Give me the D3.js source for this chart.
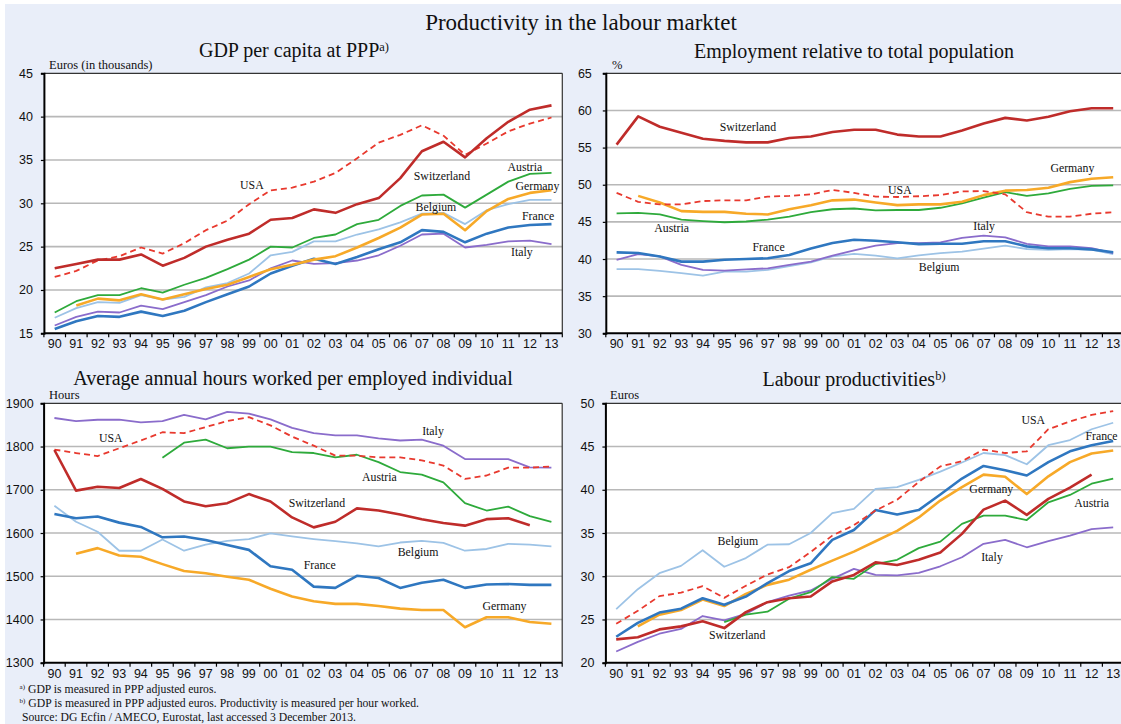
<!DOCTYPE html>
<html>
<head>
<meta charset="utf-8">
<script src="https://cdn.jsdelivr.net/npm/d3@7"></script>
<style>
  body { margin: 0; background: #ffffff; }
  svg { display: block; }
</style>
</head>
<body>
<svg id="chart" width="1121" height="724"></svg>
<script>
// ---- data -------------------------------------------------------------
const years = ["90","91","92","93","94","95","96","97","98","99",
               "00","01","02","03","04","05","06","07","08","09","10","11","12","13"];

// GDP per capita at PPP, euros (thousands)
const gdpSwitzerland = [22.5,23.0,23.5,23.5,24.1,22.8,23.7,25.0,25.8,26.5,28.1,28.3,29.3,28.9,29.9,30.6,32.9,36.0,37.1,35.3,37.5,39.4,40.8,41.3];
const gdpUSA         = [21.5,22.2,23.4,23.9,24.9,24.2,25.4,26.9,28.0,29.9,31.5,31.8,32.5,33.5,35.2,37.0,37.9,39.0,37.8,35.6,36.9,38.3,39.2,39.9];
const gdpAustria     = [17.4,18.7,19.4,19.4,20.2,19.7,20.6,21.4,22.4,23.5,25.0,24.9,26.0,26.4,27.6,28.1,29.7,30.9,31.0,29.5,31.0,32.5,33.4,33.5];
const gdpGermany     = [null,18.2,19.0,18.8,19.5,18.9,19.5,20.1,20.6,21.5,22.4,22.9,23.5,23.9,24.9,26.0,27.2,28.7,28.8,26.9,29.1,30.5,31.2,31.5];
const gdpBelgium     = [16.8,17.9,18.6,18.5,19.4,18.9,19.2,20.3,20.8,21.9,24.0,24.4,25.6,25.6,26.4,27.0,27.8,28.8,28.9,27.6,29.2,29.9,30.4,30.4];
const gdpFrance      = [15.5,16.4,17.0,16.9,17.5,17.0,17.6,18.6,19.5,20.4,21.9,22.8,23.6,23.0,23.8,24.7,25.5,26.9,26.7,25.5,26.5,27.2,27.5,27.6];
const gdpItaly       = [15.9,16.9,17.5,17.4,18.2,17.8,18.6,19.4,20.4,21.1,22.5,23.4,23.0,23.1,23.4,24.0,25.1,26.4,26.5,24.9,25.2,25.6,25.7,25.3];

// Employment relative to total population, %
const empSwitzerland = [55.4,59.2,57.8,57.0,56.2,55.9,55.7,55.7,56.3,56.5,57.1,57.4,57.4,56.75,56.5,56.5,57.3,58.25,59.0,58.65,59.15,59.9,60.3,60.3];
const empUSA         = [48.9,47.7,47.35,47.35,47.8,47.9,47.9,48.4,48.5,48.7,49.3,48.9,48.4,48.35,48.45,48.6,49.1,49.15,48.7,46.3,45.7,45.7,46.1,46.3];
const empGermany     = [null,48.5,47.6,46.45,46.35,46.35,46.1,46.0,46.7,47.25,47.9,48.0,47.6,47.25,47.35,47.35,47.7,48.6,49.2,49.3,49.6,50.35,50.8,51.0];
const empAustria     = [46.15,46.2,46.0,45.3,45.1,44.95,45.05,45.3,45.7,46.3,46.7,46.8,46.55,46.6,46.6,46.9,47.5,48.25,49.0,48.5,48.85,49.45,49.85,49.9];
const empFrance      = [40.9,40.8,40.35,39.65,39.65,39.9,40.0,40.1,40.55,41.4,42.15,42.6,42.45,42.25,42.0,42.05,42.05,42.4,42.4,41.7,41.45,41.45,41.3,40.9];
const empItaly       = [39.9,40.65,40.35,39.2,38.55,38.45,38.6,38.75,39.2,39.65,40.45,41.15,41.8,42.15,42.15,42.25,42.85,43.15,42.9,42.05,41.7,41.7,41.45,40.8];
const empBelgium     = [38.65,38.65,38.4,38.1,37.75,38.3,38.3,38.55,39.05,39.55,40.35,40.7,40.45,40.1,40.5,40.8,41.0,41.4,41.8,41.35,41.25,41.35,41.25,40.65];

// Average annual hours worked per employed individual
const hrsItaly       = [1866,1859,1862,1862,1856,1859,1873,1863,1880,1876,1863,1843,1831,1826,1826,1819,1814,1816,1802,1771,1771,1771,1752,1751];
const hrsUSA         = [1793,1785,1778,1796,1814,1833,1831,1845,1859,1868,1849,1823,1802,1779,1779,1775,1775,1768,1756,1725,1733,1751,1751,1754];
const hrsAustria     = [null,null,null,null,null,1774,1809,1816,1796,1800,1800,1787,1785,1775,1781,1764,1741,1735,1717,1669,1652,1661,1639,1626];
const hrsSwitzerland = [1792,1698,1707,1704,1725,1702,1673,1662,1669,1690,1673,1636,1613,1626,1657,1652,1643,1632,1623,1617,1632,1634,1618,null];
const hrsFrance      = [1644,1634,1638,1624,1614,1590,1592,1584,1572,1561,1523,1515,1476,1473,1501,1496,1473,1485,1492,1473,1481,1482,1480,1480];
const hrsBelgium     = [1663,1626,1603,1559,1559,1585,1559,1573,1582,1586,1599,1592,1586,1581,1576,1569,1578,1582,1577,1559,1563,1575,1573,1569];
const hrsGermany     = [null,1552,1565,1548,1545,1528,1512,1507,1499,1492,1471,1453,1442,1436,1436,1431,1425,1422,1422,1382,1405,1405,1394,1390];

// Labour productivity per hour worked, euros
const prodBelgium     = [26.2,28.5,30.35,31.2,33.0,31.1,32.1,33.65,33.7,35.0,37.3,37.8,40.1,40.3,41.15,42.1,43.15,44.25,44.0,42.95,45.15,45.75,47.0,47.75];
const prodUSA         = [24.5,26.0,27.7,28.1,28.85,27.5,28.9,30.2,31.05,32.8,34.7,35.9,37.6,38.85,40.9,42.7,43.3,44.65,44.25,44.45,47.0,47.9,48.65,49.1];
const prodFrance      = [23.0,24.6,25.8,26.25,27.45,26.7,27.65,29.2,30.6,31.5,34.2,35.35,37.65,37.15,37.65,39.45,41.3,42.75,42.25,41.65,43.2,44.45,45.15,45.65];
const prodGermany     = [null,24.2,25.55,26.1,27.3,26.55,27.95,29.0,29.6,30.75,31.8,32.85,34.05,35.25,36.8,38.75,40.3,41.75,41.5,39.5,41.55,43.2,44.2,44.55];
const prodAustria     = [null,null,null,null,null,24.7,25.55,25.9,27.4,28.15,29.9,29.7,31.4,31.9,33.25,34.0,36.05,37.0,37.0,36.5,38.55,39.4,40.7,41.3];
const prodSwitzerland = [22.7,22.95,23.85,24.2,24.8,24.0,25.85,27.0,27.45,27.65,29.4,30.15,31.6,31.3,31.9,32.75,34.9,37.7,38.75,37.1,38.95,40.25,41.75,null];
const prodItaly       = [21.3,22.4,23.35,23.9,25.4,24.9,25.65,27.0,27.75,28.35,29.7,30.85,30.15,30.1,30.4,31.15,32.2,33.75,34.2,33.35,34.05,34.7,35.45,35.65];

// y-axis ticks for each panel
const gdpTicks  = [15,20,25,30,35,40,45];
const empTicks  = [30,35,40,45,50,55,60,65];
const hrsTicks  = [1300,1400,1500,1600,1700,1800,1900];
const prodTicks = [20,25,30,35,40,45,50];

// ---- styling ----------------------------------------------------------
const SERIF = "'Liberation Serif','Times New Roman',serif";
const SANS  = "'Liberation Sans',Arial,sans-serif";

const countryStyle = {
  Switzerland: { color: "#BF2C2A", width: 2.6, dash: null },
  USA:         { color: "#E8392E", width: 1.8, dash: "6,4" },
  Austria:     { color: "#2EAA3B", width: 1.8, dash: null },
  Germany:     { color: "#F7A928", width: 2.6, dash: null },
  Belgium:     { color: "#9DC3E6", width: 1.8, dash: null },
  France:      { color: "#2F77C0", width: 2.6, dash: null },
  Italy:       { color: "#8A6CCB", width: 1.8, dash: null }
};

const svg = d3.select("#chart");

// background
svg.append("rect").attr("x", 0).attr("y", 0).attr("width", 1121).attr("height", 724).attr("fill", "#ffffff");
svg.append("rect").attr("x", 5).attr("y", 4).attr("width", 1116).attr("height", 720).attr("fill", "#E9EEF9");

// main title
svg.append("text")
  .attr("x", 581).attr("y", 30)
  .attr("text-anchor", "middle")
  .style("font-family", SERIF).style("font-size", "23px").attr("fill", "#111")
  .text("Productivity in the labour marktet");

function drawPanel(p) {
  const g = svg.append("g");
  const x = d3.scaleBand().domain(years).range([p.left, p.left + p.width]).paddingInner(0).paddingOuter(0);
  const y = d3.scaleLinear().domain(p.domain).range([p.bottom, p.top]);
  const bw = x.bandwidth();
  const xc = d => x(d) + bw / 2;
  const xi = i => p.left + i * bw;   // fractional band position

  // title
  const t = g.append("text")
    .attr("x", p.titleX).attr("y", p.titleY)
    .attr("text-anchor", "middle")
    .style("font-family", SERIF).style("font-size", "20px").attr("fill", "#111");
  t.append("tspan").text(p.title);
  if (p.sup) {
    t.append("tspan").attr("dy", -6).style("font-size", "12.5px").text(p.sup);
  }

  // plot background
  g.append("rect")
    .attr("x", p.left).attr("y", p.top)
    .attr("width", p.width).attr("height", p.bottom - p.top)
    .attr("fill", "#ffffff");

  // grid lines
  g.append("g").selectAll("line")
    .data(p.ticks.filter(v => v !== p.domain[0] && v !== p.domain[1]))
    .join("line")
    .attr("x1", p.left).attr("x2", p.left + p.width)
    .attr("y1", d => y(d)).attr("y2", d => y(d))
    .attr("stroke", "#B8B8B8").attr("stroke-width", 1.6);

  // top / right frame
  g.append("line").attr("x1", p.left).attr("x2", p.left + p.width)
    .attr("y1", p.top).attr("y2", p.top).attr("stroke", "#333").attr("stroke-width", 1.2);
  g.append("line").attr("x1", p.left + p.width).attr("x2", p.left + p.width)
    .attr("y1", p.top).attr("y2", p.bottom).attr("stroke", "#333").attr("stroke-width", 1.2);

  // y axis
  const yAxis = d3.axisLeft(y).tickValues(p.ticks).tickSize(3).tickPadding(p.tickGap).tickFormat(d3.format("d"));
  const ya = g.append("g").attr("transform", `translate(${p.left},0)`).call(yAxis);
  ya.select(".domain").attr("stroke", "#000").attr("stroke-width", 2);
  ya.selectAll(".tick line").attr("stroke", "#000").attr("stroke-width", 1.2);
  ya.selectAll(".tick text").style("font-family", SANS).style("font-size", "12.5px").attr("fill", "#111");

  // x axis: ticks on band edges, labels on band centres
  const xa = g.append("g");
  xa.append("line").attr("x1", p.left).attr("x2", p.left + p.width)
    .attr("y1", p.bottom).attr("y2", p.bottom).attr("stroke", "#000").attr("stroke-width", 2);
  xa.selectAll("line.tk").data(d3.range(years.length + 1)).join("line").attr("class", "tk")
    .attr("x1", i => xi(i)).attr("x2", i => xi(i))
    .attr("y1", p.bottom).attr("y2", p.bottom + 4)
    .attr("stroke", "#000").attr("stroke-width", 1.2);
  xa.selectAll("text").data(years).join("text")
    .attr("x", d => xc(d)).attr("y", p.bottom + 15)
    .attr("text-anchor", "middle")
    .style("font-family", SANS).style("font-size", "12.5px").attr("fill", "#111")
    .text(d => d);

  // unit label
  g.append("text").attr("x", p.unitX).attr("y", p.top - 4)
    .style("font-family", SERIF).style("font-size", "12.5px").attr("fill", "#111")
    .text(p.unit);

  // lines
  const line = d3.line()
    .defined(d => d.v != null)
    .x(d => xc(d.yr)).y(d => y(d.v));
  p.series.forEach(s => {
    const st = countryStyle[s.name];
    g.append("path")
      .datum(s.values.map((v, i) => ({ yr: years[i], v })))
      .attr("d", line)
      .attr("fill", "none")
      .attr("stroke", st.color)
      .attr("stroke-width", st.width)
      .attr("stroke-linejoin", "round")
      .attr("stroke-dasharray", st.dash);
  });

  // country labels
  g.append("g").selectAll("text").data(p.labels).join("text")
    .attr("x", d => xi(d.at[0])).attr("y", d => y(d.at[1]))
    .attr("text-anchor", "middle").attr("dominant-baseline", "central")
    .style("font-family", SERIF).style("font-size", "11.8px").attr("fill", "#111")
    .text(d => d.name);
}

drawPanel({
  title: "GDP per capita at PPP", sup: "a)", titleX: 294, titleY: 57,
  left: 43.9, width: 518.4, top: 73.3, bottom: 333.3,
  domain: [15, 45], ticks: gdpTicks, tickGap: 8,
  unit: "Euros (in thousands)", unitX: 49,
  series: [
    { name: "Belgium", values: gdpBelgium },
    { name: "Italy", values: gdpItaly },
    { name: "Austria", values: gdpAustria },
    { name: "France", values: gdpFrance },
    { name: "Germany", values: gdpGermany },
    { name: "USA", values: gdpUSA },
    { name: "Switzerland", values: gdpSwitzerland }
  ],
  labels: [
    { name: "USA", at: [9.63, 32.1] },
    { name: "Switzerland", at: [18.43, 33.15] },
    { name: "Austria", at: [22.27, 34.2] },
    { name: "Germany", at: [22.85, 32.0] },
    { name: "Belgium", at: [18.15, 29.55] },
    { name: "France", at: [22.88, 28.57] },
    { name: "Italy", at: [22.13, 24.42] }
  ]
});

drawPanel({
  title: "Employment relative to total population", titleX: 854, titleY: 58,
  left: 605.8, width: 518.2, top: 73.3, bottom: 333.3,
  domain: [30, 65], ticks: empTicks, tickGap: 11,
  unit: "%", unitX: 612,
  series: [
    { name: "Belgium", values: empBelgium },
    { name: "Italy", values: empItaly },
    { name: "Austria", values: empAustria },
    { name: "France", values: empFrance },
    { name: "Germany", values: empGermany },
    { name: "USA", values: empUSA },
    { name: "Switzerland", values: empSwitzerland }
  ],
  labels: [
    { name: "Switzerland", at: [6.58, 57.73] },
    { name: "Germany", at: [21.61, 52.21] },
    { name: "USA", at: [13.62, 49.33] },
    { name: "Austria", at: [3.05, 44.13] },
    { name: "France", at: [7.54, 41.58] },
    { name: "Italy", at: [17.52, 44.44] },
    { name: "Belgium", at: [15.44, 38.97] }
  ]
});

drawPanel({
  title: "Average annual hours worked per employed individual", titleX: 293, titleY: 385,
  left: 43.6, width: 518.6, top: 403.3, bottom: 662.7,
  domain: [1300, 1900], ticks: hrsTicks, tickGap: 7,
  unit: "Hours", unitX: 49,
  series: [
    { name: "Belgium", values: hrsBelgium },
    { name: "Italy", values: hrsItaly },
    { name: "Austria", values: hrsAustria },
    { name: "France", values: hrsFrance },
    { name: "Germany", values: hrsGermany },
    { name: "USA", values: hrsUSA },
    { name: "Switzerland", values: hrsSwitzerland }
  ],
  labels: [
    { name: "USA", at: [3.11, 1820.4] },
    { name: "Italy", at: [18.02, 1835.9] },
    { name: "Austria", at: [15.54, 1728.8] },
    { name: "Switzerland", at: [12.65, 1670.1] },
    { name: "Belgium", at: [17.33, 1555.3] },
    { name: "France", at: [12.78, 1526] },
    { name: "Germany", at: [21.33, 1431.8] }
  ]
});

drawPanel({
  title: "Labour productivities", sup: "b)", titleX: 854, titleY: 386,
  left: 605.4, width: 518.6, top: 403.3, bottom: 662.7,
  domain: [20, 50], ticks: prodTicks, tickGap: 8,
  unit: "Euros", unitX: 610,
  series: [
    { name: "Belgium", values: prodBelgium },
    { name: "Italy", values: prodItaly },
    { name: "Austria", values: prodAustria },
    { name: "Switzerland", values: prodSwitzerland },
    { name: "Germany", values: prodGermany },
    { name: "France", values: prodFrance },
    { name: "USA", values: prodUSA }
  ],
  labels: [
    { name: "USA", at: [19.8, 48.07] },
    { name: "France", at: [22.96, 46.25] },
    { name: "Germany", at: [17.86, 40.05] },
    { name: "Austria", at: [22.5, 38.5] },
    { name: "Belgium", at: [6.13, 34.08] },
    { name: "Italy", at: [17.89, 32.19] },
    { name: "Switzerland", at: [6.1, 23.2] }
  ]
});

// footnotes
const notes = svg.append("g").style("font-family", SERIF).style("font-size", "11.7px").attr("fill", "#111");
const n1 = notes.append("text").attr("x", 19.6).attr("y", 693);
n1.append("tspan").style("font-size", "7px").attr("dy", -4).text("a)");
n1.append("tspan").attr("dy", 4).text(" GDP is measured in PPP adjusted euros.");
const n2 = notes.append("text").attr("x", 19.6).attr("y", 706.5);
n2.append("tspan").style("font-size", "7px").attr("dy", -4).text("b)");
n2.append("tspan").attr("dy", 4).text(" GDP is measured in PPP adjusted euros. Productivity is measured per hour worked.");
notes.append("text").attr("x", 22).attr("y", 720.5)
  .text("Source: DG Ecfin / AMECO, Eurostat, last accessed 3 December 2013.");
</script>
</body>
</html>
